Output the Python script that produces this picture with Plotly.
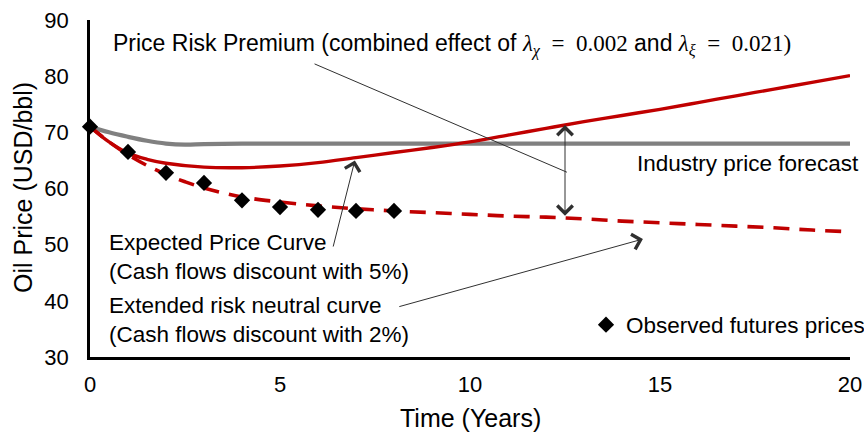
import plotly.graph_objects as go

# Observed futures prices
obs_t = [0, 1, 2, 3, 4, 5, 6, 7, 8]
obs_price = [71.0, 66.5, 62.8, 61.0, 57.9, 56.7, 56.2, 56.0, 56.0]

# Industry price forecast
ind_t = [0, 0.5, 1, 1.5, 2, 2.5, 3, 4, 6, 10, 15, 20]
ind_price = [71.0, 70.0, 69.2, 68.5, 68.0, 67.8, 67.9, 68.0, 68.0, 68.0, 68.0, 68.0]

# Expected price curve (discounted at 5%)
exp_t = [0, 0.5, 1, 1.5, 2, 3, 4, 5, 6, 7, 8, 9, 10, 11, 12, 13, 14, 15, 16, 17, 18, 19, 20]
exp_price = [71.0, 68.3, 66.3, 65.2, 64.5, 63.8, 63.7, 64.0, 64.6, 65.5, 66.4, 67.3, 68.3,
             69.5, 70.7, 71.9, 73.0, 74.1, 75.3, 76.5, 77.7, 78.9, 80.1]

# Extended risk neutral curve (discounted at 2%)
rn_t = [0, 0.5, 1, 1.5, 2, 2.5, 3, 4, 5, 6, 7, 8, 9, 10, 11, 12, 13, 14, 15, 16, 17, 18, 19, 20]
rn_price = [71.0, 68.3, 66.0, 64.1, 62.5, 61.2, 60.1, 58.5, 57.6, 56.9, 56.4, 56.0, 55.7, 55.4,
            55.1, 54.9, 54.6, 54.2, 53.9, 53.6, 53.3, 53.0, 52.6, 52.3]

x_ticks = [0, 5, 10, 15, 20]
y_ticks = [30, 40, 50, 60, 70, 80, 90]

FONT = "Liberation Sans, Arial, sans-serif"
MATH = "font-family:'Liberation Serif','DejaVu Serif',serif"
TXT = 22.5
FIG_W, FIG_H = 864, 434

# plot box in pixels: left 90, right 850, top 20, bottom 357
L, R, T, B = 90, 850, 20, 357
W, H = R - L, B - T


def px(x):
    return (x - L) / W


def py(y):
    return (B - y) / H


fig = go.Figure()

fig.add_trace(go.Scatter(x=ind_t, y=ind_price, mode="lines", line=dict(color="#808080", width=4.2),
                         line_shape="spline", showlegend=False, hoverinfo="skip"))
fig.add_trace(go.Scatter(x=rn_t, y=rn_price, mode="lines",
                         line=dict(color="#C00000", width=3.6, dash="16px,10px"),
                         line_shape="spline", showlegend=False, hoverinfo="skip"))
fig.add_trace(go.Scatter(x=exp_t, y=exp_price, mode="lines", line=dict(color="#C00000", width=3.4),
                         line_shape="spline", showlegend=False, hoverinfo="skip"))
fig.add_trace(go.Scatter(x=obs_t, y=obs_price, mode="markers", name="Observed futures prices",
                         marker=dict(symbol="diamond", size=12.5, color="black"),
                         cliponaxis=False))

lam = (f"<span style=\"{MATH}\"><i>λ</i><sub><i>χ</i></sub>  =  0.002</span> and "
       f"<span style=\"{MATH}\"><i>λ</i><sub><i>ξ</i></sub>  =  0.021)</span>")

text_style = dict(xref="paper", yref="paper", showarrow=False, font=dict(size=TXT))
annotations = [
    dict(text="Price Risk Premium (combined effect of " + lam, x=px(111), y=py(45),
         xanchor="left", yanchor="middle", xref="paper", yref="paper", showarrow=False,
         font=dict(size=23)),
    dict(text="Industry price forecast", x=px(861), y=py(163),
         xanchor="right", yanchor="middle", **text_style),
    dict(text="Expected Price Curve<br>(Cash flows discount with 5%)", x=px(107), y=py(257),
         xanchor="left", yanchor="middle", align="left", **text_style),
    dict(text="Extended risk neutral curve<br>(Cash flows discount with 2%)", x=px(107), y=py(320),
         xanchor="left", yanchor="middle", align="left", **text_style),
    # axis titles
    dict(text="Time (Years)", x=px(470), y=py(418), xanchor="center", yanchor="middle",
         xref="paper", yref="paper", showarrow=False, font=dict(size=25)),
    dict(text="Oil Price (USD/bbl)", x=px(23), y=py(188), xanchor="center", yanchor="middle",
         textangle=-90, xref="paper", yref="paper", showarrow=False, font=dict(size=25)),
]

arrow_style = dict(xref="x", yref="y", axref="x", ayref="y", text="", showarrow=True,
                   arrowcolor="#303030", arrowwidth=1)
# pointer from the premium label to the double arrow
annotations.append(dict(x=12.55, y=62.9, ax=5.87, ay=82.3, arrowhead=0, **arrow_style))
# premium double arrow between the two curves
annotations.append(dict(x=12.5, y=71.3, ax=12.5, ay=54.9, arrowhead=4, arrowsize=3,
                        arrowside="end+start", startarrowhead=4, startarrowsize=3, **arrow_style))
# expected price curve pointer
annotations.append(dict(x=6.97, y=65.0, ax=6.39, ay=49.4, arrowhead=4, arrowsize=3, **arrow_style))
# risk neutral curve pointer
annotations.append(dict(x=14.55, y=51.0, ax=8.1, ay=38.9, arrowhead=4, arrowsize=3, **arrow_style))

fig.update_layout(
    width=FIG_W, height=FIG_H,
    margin=dict(l=L, r=FIG_W - R, t=T, b=FIG_H - B, autoexpand=False),
    paper_bgcolor="white", plot_bgcolor="white",
    font=dict(family=FONT, size=TXT, color="black"),
    annotations=annotations,
    legend=dict(xref="container", yref="container", x=586 / FIG_W, y=1 - 325 / FIG_H,
                xanchor="left", yanchor="middle", borderwidth=0,
                bgcolor="rgba(0,0,0,0)", font=dict(size=TXT), tracegroupgap=0),
    xaxis=dict(range=[0, 20], tickvals=x_ticks, showgrid=False, zeroline=False,
               showline=True, linecolor="black", linewidth=2.5, ticks="", automargin=False,
               ticklabelstandoff=6, tickfont=dict(size=22)),
    yaxis=dict(range=[30, 90], tickvals=y_ticks, showgrid=False, zeroline=False,
               showline=True, linecolor="black", linewidth=2.5, ticks="", automargin=False,
               ticklabelstandoff=14, tickfont=dict(size=22)),
)

fig.write_html("out.html")
